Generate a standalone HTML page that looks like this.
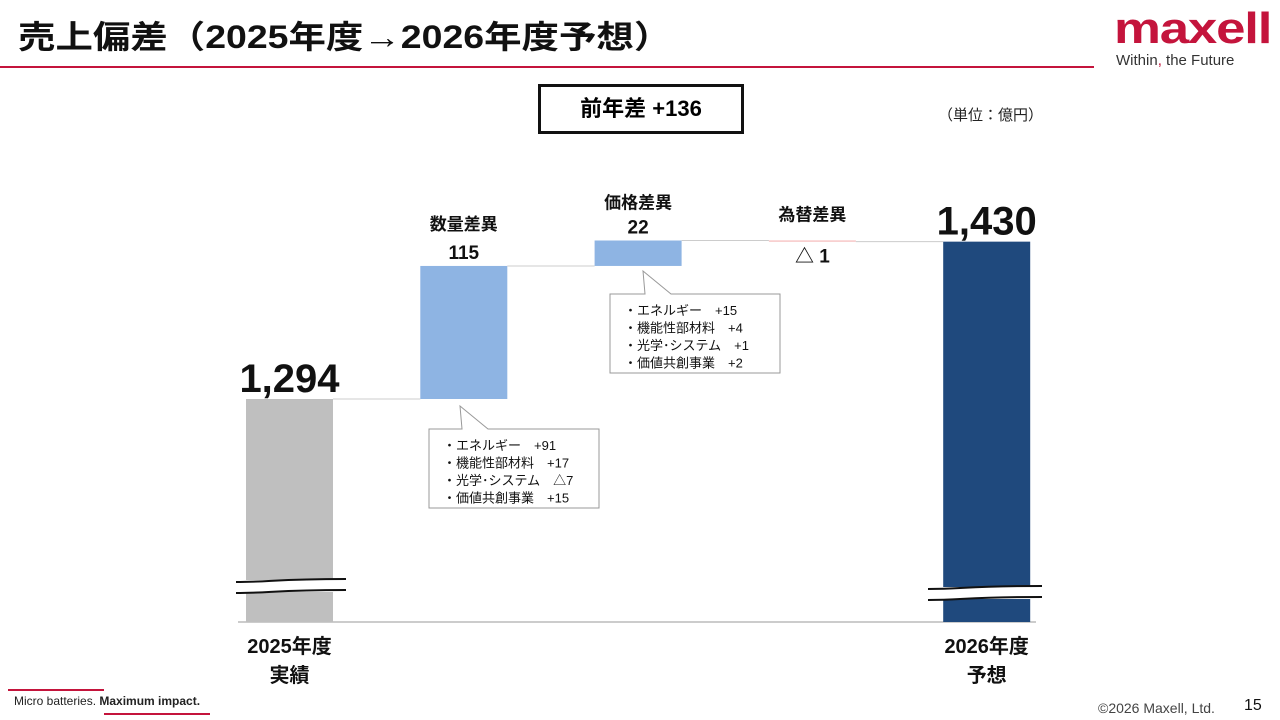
<!DOCTYPE html>
<html><head><meta charset="utf-8">
<style>
body{margin:0;width:1280px;height:720px;background:#fff;overflow:hidden;font-family:"Liberation Sans","Noto Sans CJK JP",sans-serif;}
.t{position:absolute;white-space:nowrap;}
</style></head><body>
<div class="t" style="left:18px;top:12px;font-size:32px;font-weight:bold;color:#111;transform:scaleX(1.17);transform-origin:left;">売上偏差（2025年度→2026年度予想）</div>
<div style="position:absolute;left:0;top:66px;width:1094px;height:2px;background:#c4143c;"></div>
<div class="t" style="left:1114px;top:4px;font-size:44px;font-weight:bold;color:#c4143c;letter-spacing:-1px;transform:scaleX(1.2);transform-origin:left;">maxell</div>
<div class="t" style="left:1116px;top:52px;font-size:15px;color:#333;">Within<span style="color:#c4143c">,</span> the Future</div>
<div class="t" style="left:538px;top:84px;width:200px;height:44px;border:3px solid #111;font-size:22px;font-weight:bold;text-align:center;line-height:44px;">前年差 +136</div>
<div class="t" style="left:938px;top:104px;font-size:15px;color:#222;">（単位：億円）</div>
<svg width="1280" height="720" style="position:absolute;left:0;top:0">
<g id="g"></g></svg>
<div class="t" style="left:14px;top:694px;font-size:12px;color:#222;">Micro batteries. <b>Maximum impact.</b></div>
<div style="position:absolute;left:8px;top:689px;width:96px;height:2px;background:#c4143c"></div>
<div style="position:absolute;left:104px;top:713px;width:106px;height:2px;background:#c4143c"></div>
<div class="t" style="left:1098px;top:700px;font-size:14px;color:#444;">©2026 Maxell, Ltd.</div>
<div class="t" style="left:1244px;top:697px;font-size:16px;color:#111;">15</div>
<script>
const categories=["2025年度実績","数量差異","価格差異","為替差異","2026年度予想"];
const values=[1294,115,22,-1,1430];
const valueLabels=["1,294","115","22","△ 1","1,430"];
const callout1=["・エネルギー　+91","・機能性部材料　+17","・光学･システム　△7","・価値共創事業　+15"];
const callout2=["・エネルギー　+15","・機能性部材料　+4","・光学･システム　+1","・価値共創事業　+2"];
const NS="http://www.w3.org/2000/svg",g=document.getElementById('g');
const base=622,refV=1294,refY=399,k=1.157;
const y=v=>refY-(v-refV)*k;
const xs=i=>246+i*174.3,bw=87;
function el(t,a,p){const e=document.createElementNS(NS,t);for(const n in a)e.setAttribute(n,a[n]);(p||g).appendChild(e);return e;}
el('line',{x1:238,x2:1036,y1:base,y2:base,stroke:'#ccc','stroke-width':2});
let cum=0;const colors=['#bfbfbf','#8eb4e3','#8eb4e3','#f4b6b6','#1f497d'];
values.forEach((v,i)=>{
  let top,bot;
  if(i===0||i===values.length-1){top=y(v);bot=base;cum=v;}
  else{const a=cum,b=cum+v;top=y(Math.max(a,b));bot=y(Math.min(a,b));cum=b;}
  const r=el('rect',{x:xs(i),y:top,width:bw,height:Math.max(bot-top,1),fill:colors[i]});
  
  
  if(i<values.length-1){const ln=el('line',{x1:xs(i)+bw,x2:xs(i+1),y1:y(cum),y2:y(cum),stroke:'#ccc','stroke-width':1});
  }
  const big=(i===0||i===values.length-1);
  const t=el('text',{x:xs(i)+bw/2,y:top-7,'text-anchor':'middle','font-size':big?40:19,'font-weight':'bold',fill:'#111'});
  if(i===3)t.setAttribute('y',top+22);
  t.textContent=valueLabels[i];
  
  
  if(!big){const c=el('text',{x:xs(i)+bw/2,y:i===1?top-36:(i===2?top-32:top-20),'text-anchor':'middle','font-size':17,'font-weight':'bold',fill:'#111'});
    c.textContent=categories[i];
    
    }
});
[[0,"2025年度","実績"],[4,"2026年度","予想"]].forEach(([i,a,b])=>{
  [a,b].forEach((s,j)=>{const t=el('text',{x:xs(i)+bw/2,y:653+j*29,'text-anchor':'middle','font-size':20,'font-weight':'bold',fill:'#111'});t.textContent=s;
  });
});
[[236,346,580],[928,1042,587]].forEach(([x1,x2,yy])=>{
  el('rect',{x:x1,y:yy,width:x2-x1,height:12,fill:'#fff'});
  [0,11].forEach(d=>el('path',{d:`M${x1} ${yy+d+2} C${x1+35} ${yy+d+2} ${x1+40} ${yy+d-1} ${x2} ${yy+d-1}`,stroke:'#111','stroke-width':2,fill:'none'}));
});
function callout(x,yy,w,h,tx,ty,lines,name){
  const p=el('path',{d:`M${x} ${yy}H${tx-8}L${tx-10} ${ty}L${tx+18} ${yy}H${x+w}V${yy+h}H${x}Z`,fill:'#fff',stroke:'#999','stroke-width':1});
  
  lines.forEach((s,j)=>{const t=el('text',{x:x+14,y:yy+21+j*17.5,'font-size':13,fill:'#111'});t.textContent=s;
  });
}
callout(429,429,170,79,470,406,callout1,'volume-callout');
callout(610,294,170,79,653,271,callout2,'price-callout');
</script>
</body></html>
